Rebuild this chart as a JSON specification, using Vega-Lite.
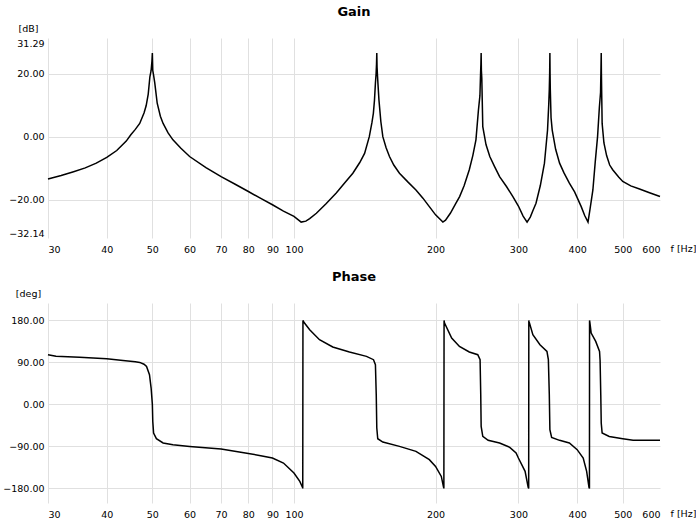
{
  "$schema": "https://vega.github.io/schema/vega-lite/v6.json",
  "padding": {"left": 2, "top": 6, "right": 0, "bottom": 0},
  "config": {
    "view": {"stroke": null},
    "font": "DejaVu Sans",
    "axis": {
      "labelFont": "DejaVu Sans", "labelFontSize": 9.5, "labelColor": "#000",
      "domain": false, "ticks": false, "tickSize": 0,
      "gridColor": "#e0e0e0", "gridWidth": 1,
      "titleFont": "DejaVu Sans", "titleFontSize": 9.5, "titleFontWeight": "normal", "titleColor": "#000"
    },
    "title": {"font": "DejaVu Sans", "fontSize": 13, "fontWeight": "bold", "color": "#000", "anchor": "middle", "offset": 4},
    "concat": {"spacing": 17}
  },
  "datasets": {
    "gain": [
      {"f": 30, "g": -13.4}, {"f": 32, "g": -12.3}, {"f": 34, "g": -11.1}, {"f": 36, "g": -9.9},
      {"f": 38, "g": -8.4}, {"f": 40, "g": -6.6}, {"f": 42, "g": -4.4}, {"f": 44, "g": -1.4},
      {"f": 45, "g": 0.6}, {"f": 46, "g": 2.3}, {"f": 47, "g": 4.2}, {"f": 48, "g": 7.5},
      {"f": 48.5, "g": 9.8}, {"f": 49, "g": 13.5}, {"f": 49.4, "g": 19}, {"f": 49.7, "g": 21},
      {"f": 49.9, "g": 24}, {"f": 50, "g": 26.5}, {"f": 50.1, "g": 21}, {"f": 50.3, "g": 19.5},
      {"f": 50.6, "g": 17}, {"f": 51.2, "g": 10.6}, {"f": 52, "g": 6.5}, {"f": 52.7, "g": 4.2},
      {"f": 54, "g": 1.2}, {"f": 55.3, "g": -1.0}, {"f": 57.5, "g": -3.7}, {"f": 60, "g": -6.3},
      {"f": 65, "g": -9.8}, {"f": 70, "g": -12.7}, {"f": 75, "g": -15.1}, {"f": 80, "g": -17.4},
      {"f": 85, "g": -19.6}, {"f": 90, "g": -21.6}, {"f": 95, "g": -23.6}, {"f": 100, "g": -25.3},
      {"f": 103.6, "g": -27.1}, {"f": 106, "g": -26.8}, {"f": 108, "g": -26}, {"f": 111.6, "g": -24.3},
      {"f": 117, "g": -21.3}, {"f": 123, "g": -17.9}, {"f": 128, "g": -14.8}, {"f": 133.4, "g": -11.6},
      {"f": 138, "g": -8.2}, {"f": 141.3, "g": -5.3}, {"f": 144.6, "g": 0}, {"f": 146.5, "g": 4.5},
      {"f": 147.5, "g": 7.4}, {"f": 148.3, "g": 11.5}, {"f": 149, "g": 17}, {"f": 149.5, "g": 20},
      {"f": 149.8, "g": 23}, {"f": 150, "g": 26.5}, {"f": 150.2, "g": 22}, {"f": 150.5, "g": 19.5},
      {"f": 150.9, "g": 16.5}, {"f": 151.6, "g": 11.6}, {"f": 153, "g": 4.8}, {"f": 154.5, "g": 0},
      {"f": 157, "g": -3.5}, {"f": 159.6, "g": -6.3}, {"f": 163, "g": -9}, {"f": 167.6, "g": -11.6},
      {"f": 175, "g": -14.5}, {"f": 181.7, "g": -16.9}, {"f": 188, "g": -19.5}, {"f": 194, "g": -22.2},
      {"f": 200, "g": -24.8}, {"f": 207.3, "g": -27.1}, {"f": 210, "g": -26.5}, {"f": 215, "g": -24.3},
      {"f": 221, "g": -21.1}, {"f": 225, "g": -19}, {"f": 230, "g": -15.6}, {"f": 235.9, "g": -10.5},
      {"f": 240, "g": -6}, {"f": 243.7, "g": -1.0}, {"f": 246.7, "g": 8.4}, {"f": 248.5, "g": 13},
      {"f": 249.3, "g": 20}, {"f": 249.7, "g": 23}, {"f": 250, "g": 26.5}, {"f": 250.3, "g": 21},
      {"f": 250.8, "g": 18.5}, {"f": 252, "g": 3.2}, {"f": 256, "g": -2.5}, {"f": 260.8, "g": -6.3},
      {"f": 267, "g": -9.5}, {"f": 273.6, "g": -12.7}, {"f": 283, "g": -15.8}, {"f": 292, "g": -19},
      {"f": 300, "g": -22}, {"f": 307, "g": -25.2}, {"f": 313, "g": -27.1}, {"f": 318, "g": -25.5},
      {"f": 322, "g": -23.5}, {"f": 327, "g": -21.1}, {"f": 334, "g": -15.5}, {"f": 340.8, "g": -8.4},
      {"f": 346, "g": 2.1}, {"f": 348, "g": 10}, {"f": 349, "g": 15}, {"f": 349.6, "g": 20},
      {"f": 350, "g": 26.5}, {"f": 350.3, "g": 20}, {"f": 350.7, "g": 15}, {"f": 352, "g": 6},
      {"f": 354, "g": 2.1}, {"f": 360, "g": -4}, {"f": 367, "g": -8.4}, {"f": 375, "g": -11.5},
      {"f": 385, "g": -14.7}, {"f": 395, "g": -17.5}, {"f": 408, "g": -22.2}, {"f": 415, "g": -25},
      {"f": 421.8, "g": -27.1}, {"f": 426, "g": -23}, {"f": 432, "g": -16.9}, {"f": 437, "g": -8},
      {"f": 442, "g": 0}, {"f": 446, "g": 9.5}, {"f": 448.5, "g": 14}, {"f": 449.5, "g": 22},
      {"f": 450, "g": 26.5}, {"f": 450.4, "g": 20}, {"f": 451, "g": 14}, {"f": 452, "g": 4.2},
      {"f": 456, "g": -2}, {"f": 462, "g": -6}, {"f": 469, "g": -9}, {"f": 476, "g": -10.5},
      {"f": 490, "g": -12.8}, {"f": 500, "g": -14.2}, {"f": 520, "g": -15.6}, {"f": 542.8, "g": -16.6},
      {"f": 570, "g": -17.8}, {"f": 600, "g": -19}
    ],
    "phase": [
      {"f": 30, "p": 106.5}, {"f": 31.2, "p": 103}, {"f": 35, "p": 100.8}, {"f": 40, "p": 97.9},
      {"f": 43.3, "p": 94.3}, {"f": 46, "p": 91.5}, {"f": 47, "p": 90}, {"f": 48, "p": 86},
      {"f": 48.6, "p": 81.4}, {"f": 49.3, "p": 63.6}, {"f": 49.7, "p": 35}, {"f": 50, "p": 0},
      {"f": 50.1, "p": -36}, {"f": 50.3, "p": -61.3}, {"f": 51, "p": -73.5}, {"f": 52.7, "p": -82.7},
      {"f": 55.3, "p": -86.4}, {"f": 60, "p": -90}, {"f": 70, "p": -95.6}, {"f": 80, "p": -105},
      {"f": 85, "p": -110}, {"f": 90, "p": -114.9}, {"f": 95, "p": -125.6}, {"f": 100, "p": -147},
      {"f": 102.9, "p": -165}, {"f": 104.3, "p": -177.8}, {"f": 104.4, "p": -180}, {"f": 104.5, "p": 180},
      {"f": 105, "p": 176}, {"f": 108, "p": 160}, {"f": 113.3, "p": 138.6}, {"f": 120.9, "p": 123},
      {"f": 131.2, "p": 112.3}, {"f": 142.6, "p": 102.9}, {"f": 147.6, "p": 95.8}, {"f": 149, "p": 85},
      {"f": 149.6, "p": 20.8}, {"f": 150, "p": -50.6}, {"f": 150.7, "p": -73.5}, {"f": 154.5, "p": -80.6},
      {"f": 167.6, "p": -90}, {"f": 181.7, "p": -100.7}, {"f": 194, "p": -118.5}, {"f": 200, "p": -132.8},
      {"f": 205.7, "p": -154.3}, {"f": 208, "p": -177.8}, {"f": 208.3, "p": -180}, {"f": 208.5, "p": 180},
      {"f": 209, "p": 174.4}, {"f": 216.4, "p": 142.3}, {"f": 224.8, "p": 124.3}, {"f": 235.9, "p": 112.3},
      {"f": 245.9, "p": 106.5}, {"f": 248.7, "p": 95.8}, {"f": 249.5, "p": 20.8}, {"f": 250, "p": -47},
      {"f": 252, "p": -68.6}, {"f": 258.7, "p": -77}, {"f": 273.6, "p": -82.7}, {"f": 287.6, "p": -92},
      {"f": 296.6, "p": -104}, {"f": 300, "p": -114.9}, {"f": 310, "p": -143.5}, {"f": 314.7, "p": -177.8},
      {"f": 315.5, "p": -180}, {"f": 315.7, "p": 180}, {"f": 316, "p": 177.8}, {"f": 322, "p": 149.3},
      {"f": 333.4, "p": 128}, {"f": 345, "p": 113.6}, {"f": 347.4, "p": 95.8}, {"f": 349, "p": 20.8},
      {"f": 350, "p": -54.2}, {"f": 353, "p": -70.7}, {"f": 367, "p": -77}, {"f": 385, "p": -82.7},
      {"f": 400, "p": -97}, {"f": 412, "p": -114.9}, {"f": 419, "p": -143.5}, {"f": 423.8, "p": -177.8},
      {"f": 424.8, "p": -180}, {"f": 425, "p": 180}, {"f": 425.5, "p": 177}, {"f": 428.4, "p": 153},
      {"f": 438, "p": 135}, {"f": 446.3, "p": 113.6}, {"f": 447.5, "p": 94}, {"f": 449, "p": 20.8},
      {"f": 450, "p": -40}, {"f": 452, "p": -61.3}, {"f": 468, "p": -68.6}, {"f": 500, "p": -73.5},
      {"f": 526, "p": -77}, {"f": 600, "p": -77}
    ]
  },
  "vconcat": [
    {
      "title": "Gain",
      "width": 612,
      "height": 200,
      "data": {"name": "gain"},
      "mark": {"type": "line", "color": "#000", "strokeWidth": 1.5},
      "encoding": {
        "x": {
          "field": "f", "type": "quantitative",
          "scale": {"type": "log", "domain": [30, 600]},
          "axis": {
            "values": [30, 40, 50, 60, 70, 80, 90, 100, 200, 300, 400, 500, 600],
            "format": "d", "labelFlush": true, "labelPadding": 6,
            "gridOpacity": {"condition": {"test": "datum.value >= 600", "value": 0}, "value": 1},
            "title": "f [Hz]", "titleX": 635, "titleY": 10, "titleAlign": "center",
            "titleBaseline": "middle", "titleAngle": 0
          }
        },
        "y": {
          "field": "g", "type": "quantitative",
          "scale": {"domain": [-32.14, 31.29], "zero": false, "nice": false},
          "axis": {
            "values": [-32.14, -20, 0, 20, 31.29],
            "format": ".2f", "labelFlush": true, "labelPadding": 4,
            "gridOpacity": {"condition": {"test": "abs(datum.value) > 25", "value": 0}, "value": 1},
            "title": "[dB]", "titleX": -20, "titleY": -10, "titleAlign": "center",
            "titleBaseline": "middle", "titleAngle": 0
          }
        }
      }
    },
    {
      "title": "Phase",
      "width": 612,
      "height": 200,
      "data": {"name": "phase"},
      "mark": {"type": "line", "color": "#000", "strokeWidth": 1.5},
      "encoding": {
        "x": {
          "field": "f", "type": "quantitative",
          "scale": {"type": "log", "domain": [30, 600]},
          "axis": {
            "values": [30, 40, 50, 60, 70, 80, 90, 100, 200, 300, 400, 500, 600],
            "format": "d", "labelFlush": true, "labelPadding": 6,
            "gridOpacity": {"condition": {"test": "datum.value >= 600", "value": 0}, "value": 1},
            "title": "f [Hz]", "titleX": 635, "titleY": 10, "titleAlign": "center",
            "titleBaseline": "middle", "titleAngle": 0
          }
        },
        "y": {
          "field": "p", "type": "quantitative",
          "scale": {"domain": [-211.3, 217.3], "zero": false, "nice": false},
          "axis": {
            "values": [-180, -90, 0, 90, 180],
            "format": ".2f", "labelFlush": false, "labelPadding": 4,
            "title": "[deg]", "titleX": -20, "titleY": -10, "titleAlign": "center",
            "titleBaseline": "middle", "titleAngle": 0
          }
        }
      }
    }
  ]
}
